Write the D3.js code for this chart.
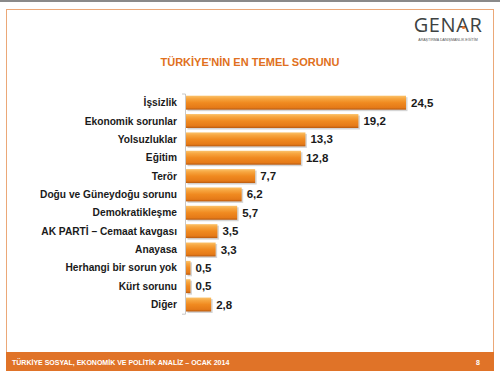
<!DOCTYPE html>
<html><head><meta charset="utf-8">
<script src="https://d3js.org/d3.v7.min.js"></script>
<style>body{margin:0;background:#fff}svg{display:block}</style>
</head><body>
<script>
const categories = ["İşsizlik","Ekonomik sorunlar","Yolsuzluklar","Eğitim","Terör","Doğu ve Güneydoğu sorunu","Demokratikleşme","AK PARTİ – Cemaat kavgası","Anayasa","Herhangi bir sorun yok","Kürt sorunu","Diğer"];
const values = [24.5,19.2,13.3,12.8,7.7,6.2,5.7,3.5,3.3,0.5,0.5,2.8];
const valueLabels = ["24,5","19,2","13,3","12,8","7,7","6,2","5,7","3,5","3,3","0,5","0,5","2,8"];
const title = "TÜRKİYE'NİN EN TEMEL SORUNU";
const footer = "TÜRKİYE SOSYAL, EKONOMİK VE POLİTİK ANALİZ – OCAK 2014";
const pageNo = "8";

const W=500,H=377;
const svg=d3.select("body").append("svg").attr("width",W).attr("height",H);
const defs=svg.append("defs");
const g=defs.append("linearGradient").attr("id","bar").attr("x1",0).attr("y1",0).attr("x2",0).attr("y2",1);
[[0,"#FBC26A"],[0.2,"#F7A640"],[0.5,"#F08A20"],[0.85,"#E57A18"],[1,"#B85A10"]].forEach(s=>g.append("stop").attr("offset",s[0]).attr("stop-color",s[1]));

svg.append("rect").attr("x",0).attr("y",0).attr("width",W).attr("height",2).attr("fill","#8a8a8a");
svg.append("rect").attr("x",6.5).attr("y",9.5).attr("width",487).attr("height",352).attr("fill","#fff").attr("stroke","#EBA878").attr("stroke-width",1);
svg.append("rect").attr("x",6).attr("y",352).attr("width",488).attr("height",19).attr("fill","#E07328");
svg.append("text").attr("x",12).attr("y",364.5).attr("fill","#fff").attr("font-family","Arial, Liberation Sans, sans-serif").attr("font-weight","bold").attr("font-size",7).text(footer);
svg.append("text").attr("x",478).attr("y",364.5).attr("fill","#fff").attr("font-family","Arial, Liberation Sans, sans-serif").attr("font-weight","bold").attr("font-size",7).attr("text-anchor","middle").text(pageNo);

const logo=svg.append("text").attr("x",448).attr("y",32).attr("text-anchor","middle").attr("fill","#3d4242").attr("font-family","Open Sans, DejaVu Sans, sans-serif").attr("font-size",20).attr("letter-spacing",0.6);
logo.append("tspan").text("GENAR");
svg.append("circle").attr("cx",463.5).attr("cy",27.5).attr("r",1.6).attr("fill","#E8732A");
svg.append("text").attr("x",448).attr("y",40.5).attr("text-anchor","middle").attr("fill","#555").attr("font-family","Arial, sans-serif").attr("font-size",3.6).text("ARAŞTIRMA DANIŞMANLIK EĞİTİM");

svg.append("text").attr("x",250).attr("y",66).attr("text-anchor","middle").attr("fill","#E07020").attr("font-family","Arial, Liberation Sans, sans-serif").attr("font-weight","bold").attr("font-size",11).text(title);

const x=d3.scaleLinear().domain([0,24.5]).range([186,406]);
const y=d3.scaleBand().domain(categories).range([93.5,313.7]).paddingInner(0.24).paddingOuter(0.12);

const ax=d3.axisLeft(y).tickSize(3).tickFormat("");
svg.append("g").attr("transform","translate(185,0)").call(ax).call(s=>{s.selectAll("path,line").attr("stroke","#c8c8c8");s.selectAll(".tick").remove();});

const bh=y.bandwidth();
const rows=svg.append("g").selectAll("g").data(categories).join("g");
rows.append("rect").attr("x",x(0)+1.5).attr("y",d=>y(d)+1.5).attr("width",(d,i)=>x(values[i])-x(0)).attr("height",bh).attr("fill","#b9b9b9").attr("opacity",0.6);
rows.append("rect").attr("x",x(0)).attr("y",d=>y(d)).attr("width",(d,i)=>x(values[i])-x(0)).attr("height",bh).attr("fill","url(#bar)");
rows.append("text").attr("x",177).attr("y",d=>y(d)+bh/2).attr("dy","0.35em").attr("text-anchor","end").attr("font-family","Arial, Liberation Sans, sans-serif").attr("font-weight","bold").attr("font-size",10.2).attr("fill","#1a1a1a").text(d=>d);
rows.append("text").attr("x",(d,i)=>x(values[i])+5).attr("y",d=>y(d)+bh/2).attr("dy","0.35em").attr("font-family","Arial, Liberation Sans, sans-serif").attr("font-weight","bold").attr("font-size",11.5).attr("fill","#1a1a1a").text((d,i)=>valueLabels[i]);
</script>
</body></html>
